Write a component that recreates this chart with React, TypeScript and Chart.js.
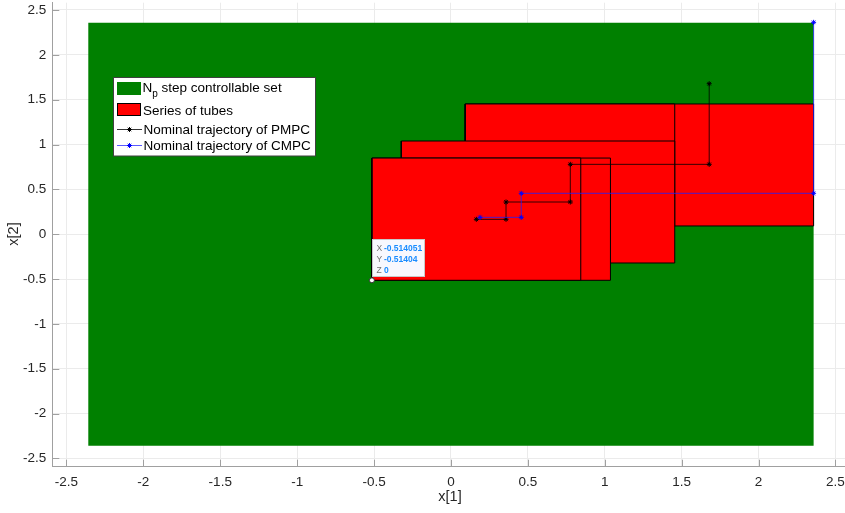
import React, { useEffect, useRef } from "react";
import { Chart, registerables } from "chart.js";

Chart.register(...registerables);

// ---- data ----
const xTickValues = [-2.5, -2, -1.5, -1, -0.5, 0, 0.5, 1, 1.5, 2, 2.5];
const xTickLabels = ["-2.5", "-2", "-1.5", "-1", "-0.5", "0", "0.5", "1", "1.5", "2", "2.5"];
const yTickValues = [-2.5, -2, -1.5, -1, -0.5, 0, 0.5, 1, 1.5, 2, 2.5];
const yTickLabels = ["-2.5", "-2", "-1.5", "-1", "-0.5", "0", "0.5", "1", "1.5", "2", "2.5"];

// N_p step controllable set (box)
const setXMin = -2.358;
const setXMax = 2.358;
const setYMin = -2.358;
const setYMax = 2.358;

// Series of tubes (drawn bottom to top)
const tubeXMin = [0.093, 0.093, -0.323, -0.514, -0.514];
const tubeXMax = [2.358, 1.455, 1.455, 1.037, 0.844];
const tubeYMin = [0.092, 0.092, -0.321, -0.514, -0.514];
const tubeYMax = [1.452, 1.452, 1.039, 0.849, 0.849];

// Nominal trajectory of PMPC
const pmpcX = [0.165, 0.358, 0.358, 0.776, 0.776, 1.679, 1.679];
const pmpcY = [0.166, 0.166, 0.359, 0.359, 0.779, 0.779, 1.678];

// Nominal trajectory of CMPC
const cmpcX = [0.189, 0.457, 0.457, 2.358, 2.358];
const cmpcY = [0.188, 0.188, 0.456, 0.456, 2.362];

// data tip
const tipX = -0.514051;
const tipY = -0.51404;

const legendLabels = ["step controllable set", "Series of tubes", "Nominal trajectory of PMPC", "Nominal trajectory of CMPC"];

const FONT = '"Liberation Sans", Arial, Helvetica, sans-serif';
const AXIS_COLOR = "#a0a0a0";
const TEXT_COLOR = "#262626";
const GREEN = "#008000";
const RED = "#ff0000";

function rectPoints(x0: number, x1: number, y0: number, y1: number) {
  return [
    { x: x0, y: y0 },
    { x: x1, y: y0 },
    { x: x1, y: y1 },
    { x: x0, y: y1 },
    { x: x0, y: y0 },
  ];
}

function drawStar(ctx: CanvasRenderingContext2D, x: number, y: number, r: number, color: string) {
  ctx.save();
  ctx.strokeStyle = color;
  ctx.lineWidth = 1;
  ctx.beginPath();
  ctx.moveTo(x - r, y);
  ctx.lineTo(x + r, y);
  ctx.moveTo(x, y - r);
  ctx.lineTo(x, y + r);
  const d = r * 0.7;
  ctx.moveTo(x - d, y - d);
  ctx.lineTo(x + d, y + d);
  ctx.moveTo(x - d, y + d);
  ctx.lineTo(x + d, y - d);
  ctx.stroke();
  ctx.restore();
}

const decorPlugin = {
  id: "matlabDecor",
  afterDraw(chart: any) {
    const { ctx, chartArea } = chart;
    const xs = chart.scales.x;
    const ys = chart.scales.y;
    ctx.save();

    // inward tick marks
    ctx.strokeStyle = AXIS_COLOR;
    ctx.lineWidth = 1;
    ctx.beginPath();
    for (const v of xTickValues) {
      const px = Math.round(xs.getPixelForValue(v)) + 0.5;
      ctx.moveTo(px, chartArea.bottom);
      ctx.lineTo(px, chartArea.bottom - 7);
    }
    for (const v of yTickValues) {
      const py = Math.round(ys.getPixelForValue(v)) + 0.5;
      ctx.moveTo(chartArea.left, py);
      ctx.lineTo(chartArea.left + 7, py);
    }
    ctx.stroke();

    // axis titles
    ctx.fillStyle = TEXT_COLOR;
    ctx.font = `14.5px ${FONT}`;
    ctx.textAlign = "center";
    ctx.textBaseline = "middle";
    ctx.fillText("x[1]", 450, 497);
    ctx.save();
    ctx.translate(14, 234);
    ctx.rotate(-Math.PI / 2);
    ctx.fillText("x[2]", 0, 0);
    ctx.restore();

    // legend
    const lx = 113.5, ly = 77.5, lw = 202, lh = 78.5;
    ctx.fillStyle = "#ffffff";
    ctx.fillRect(lx, ly, lw, lh);
    ctx.strokeStyle = "#404040";
    ctx.lineWidth = 1;
    ctx.strokeRect(lx, ly, lw, lh);

    ctx.fillStyle = GREEN;
    ctx.fillRect(117, 82, 24, 13);
    ctx.fillStyle = RED;
    ctx.fillRect(117, 103, 24, 13);
    ctx.strokeStyle = "#000";
    ctx.strokeRect(117.5, 103.5, 23, 12);
    ctx.lineWidth = 0.8;
    ctx.strokeStyle = "#000";
    ctx.beginPath();
    ctx.moveTo(117, 129.5);
    ctx.lineTo(142, 129.5);
    ctx.stroke();
    drawStar(ctx, 129.5, 129.5, 2.5, "#000");
    ctx.strokeStyle = "#3030ff";
    ctx.beginPath();
    ctx.moveTo(117, 145.5);
    ctx.lineTo(142, 145.5);
    ctx.stroke();
    drawStar(ctx, 129.5, 145.5, 2.5, "#0000ff");

    ctx.fillStyle = "#000";
    ctx.textAlign = "left";
    ctx.textBaseline = "alphabetic";
    ctx.font = `13.5px ${FONT}`;
    ctx.fillText("N", 142.5, 92);
    const wN = ctx.measureText("N").width;
    ctx.font = `10px ${FONT}`;
    ctx.fillText("p", 142.5 + wN, 97);
    const wp = ctx.measureText("p").width;
    ctx.font = `13.5px ${FONT}`;
    ctx.fillText(" " + legendLabels[0], 142.5 + wN + wp, 92);
    ctx.fillText(legendLabels[1], 143, 115);
    ctx.fillText(legendLabels[2], 143.5, 133.5);
    ctx.fillText(legendLabels[3], 143.5, 150);

    // data tip box
    const px = xs.getPixelForValue(tipX);
    const py = ys.getPixelForValue(tipY);
    const bx = Math.round(px) + 0.5, by = Math.round(py - 41) + 0.5;
    ctx.fillStyle = "#f8f8fe";
    ctx.fillRect(bx, by, 52, 37);
    ctx.strokeStyle = "#c8c8c8";
    ctx.lineWidth = 1;
    ctx.strokeRect(bx, by, 52, 37);
    const rows = [["X", tipX.toString()], ["Y", tipY.toString()], ["Z", "0"]];
    ctx.textBaseline = "middle";
    rows.forEach((r, i) => {
      const ty = py - 31.4 + i * 10.7;
      ctx.font = `8.5px ${FONT}`;
      ctx.fillStyle = "#707070";
      ctx.fillText(r[0], px + 4.5, ty);
      ctx.font = `bold 8.5px ${FONT}`;
      ctx.fillStyle = "#1a8cff";
      ctx.fillText(r[1], px + 12, ty);
    });

    ctx.restore();
  },
};

export default function App() {
  const ref = useRef<HTMLCanvasElement | null>(null);

  useEffect(() => {
    if (!ref.current) return;

    const datasets: any[] = [];
    datasets.push({
      label: "set",
      data: rectPoints(setXMin, setXMax, setYMin, setYMax),
      fill: "shape",
      backgroundColor: GREEN,
      borderColor: "rgba(0,0,0,0)",
      borderWidth: 1,
      pointRadius: 0,
      tension: 0,
      order: 50,
    });
    for (let i = 0; i < tubeXMin.length; i++) {
      datasets.push({
        label: "tube" + i,
        data: rectPoints(tubeXMin[i], tubeXMax[i], tubeYMin[i], tubeYMax[i]),
        fill: "shape",
        backgroundColor: RED,
        borderColor: "#000000",
        borderWidth: 1,
        pointRadius: 0,
        tension: 0,
        order: 40 - i,
      });
    }
    datasets.push({
      label: "PMPC",
      data: pmpcX.map((x, i) => ({ x, y: pmpcY[i] })),
      fill: false,
      borderColor: "#000000",
      borderWidth: 0.8,
      pointStyle: "star",
      pointRadius: 2.5,
      pointBorderWidth: 1,
      pointBorderColor: "#000000",
      pointBackgroundColor: "#000000",
      tension: 0,
      order: 3,
    });
    datasets.push({
      label: "CMPC",
      data: cmpcX.map((x, i) => ({ x, y: cmpcY[i] })),
      fill: false,
      borderColor: "#2020ff",
      borderWidth: 0.8,
      pointStyle: "star",
      pointRadius: 2.5,
      pointBorderWidth: 1,
      pointBorderColor: "#0000ff",
      pointBackgroundColor: "#0000ff",
      tension: 0,
      order: 2,
    });
    datasets.push({
      label: "tip",
      data: [{ x: tipX, y: tipY }],
      showLine: false,
      fill: false,
      pointStyle: "circle",
      pointRadius: 2.5,
      pointBorderWidth: 1,
      pointBorderColor: "#303030",
      pointBackgroundColor: "#ffffff",
      order: 1,
      clip: false,
    });

    const chart = new Chart(ref.current, {
      type: "line",
      data: { datasets },
      options: {
        animation: false,
        responsive: false,
        devicePixelRatio: 1,
        layout: { autoPadding: false, padding: { top: 2.7, left: 0, right: 0, bottom: 0 } },
        plugins: {
          legend: { display: false },
          tooltip: { enabled: false },
          filler: { propagate: false },
        },
        events: [],
        scales: {
          x: {
            type: "linear",
            min: -2.592,
            max: 2.562,
            afterBuildTicks: (s: any) => {
              s.ticks = xTickValues.map((v) => ({ value: v }));
            },
            afterFit: (s: any) => {
              s.height = 46.3;
              s.paddingLeft = 0;
              s.paddingRight = 0;
            },
            grid: { color: "#ebebeb", drawTicks: false, lineWidth: 1 },
            border: { display: true, color: AXIS_COLOR, width: 1 },
            ticks: {
              padding: 7,
              color: TEXT_COLOR,
              font: { family: FONT, size: 13.5 },
              maxRotation: 0,
              autoSkip: false,
              callback: (v: any) => {
                const i = xTickValues.indexOf(Number(v));
                return i >= 0 ? xTickLabels[i] : "";
              },
            },
          },
          y: {
            type: "linear",
            min: -2.592,
            max: 2.581,
            afterBuildTicks: (s: any) => {
              s.ticks = yTickValues.map((v) => ({ value: v }));
            },
            afterFit: (s: any) => {
              s.width = 52.3;
              s.paddingTop = 0;
              s.paddingBottom = 0;
            },
            grid: { color: "#ebebeb", drawTicks: false, lineWidth: 1 },
            border: { display: true, color: AXIS_COLOR, width: 1 },
            ticks: {
              padding: 6,
              color: TEXT_COLOR,
              font: { family: FONT, size: 13.5 },
              autoSkip: false,
              callback: (v: any) => {
                const i = yTickValues.indexOf(Number(v));
                return i >= 0 ? yTickLabels[i] : "";
              },
            },
          },
        },
      },
      plugins: [decorPlugin],
    } as any);

    return () => chart.destroy();
  }, []);

  return (
    <div style={{ position: "fixed", left: 0, top: 0, width: 845, height: 513, background: "#fff" }}>
      <canvas ref={ref} width={845} height={513} style={{ width: 845, height: 513, display: "block" }} />
    </div>
  );
}
